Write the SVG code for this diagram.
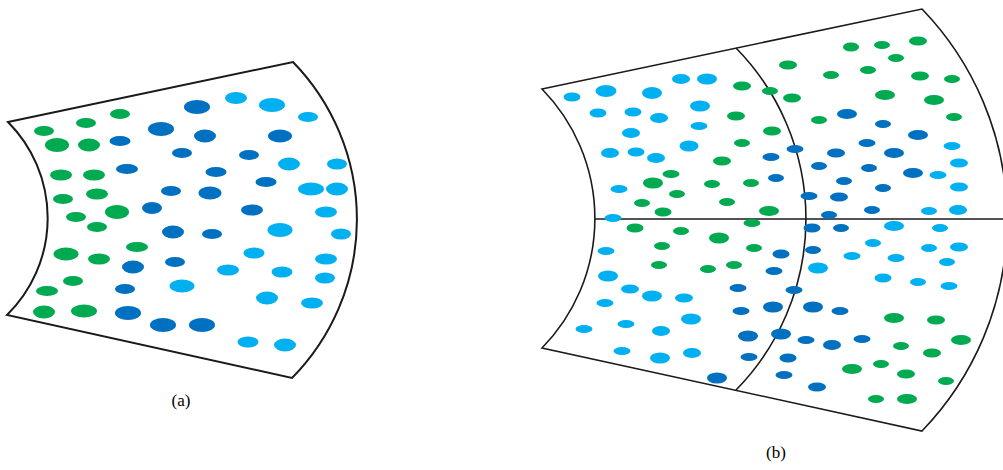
<svg xmlns="http://www.w3.org/2000/svg" width="1003" height="470" viewBox="0 0 1003 470">
<style>
.o{fill:none;stroke:#1a1a1a;stroke-width:2;stroke-linejoin:miter}
.o2{fill:none;stroke:#1a1a1a;stroke-width:1.6}
.g{fill:#00AA50}
.d{fill:#0070C0}
.l{fill:#00B0F0}
.t{font-family:"Liberation Serif","Times New Roman",serif;font-size:17px;fill:#000;text-anchor:middle}
</style>
<rect width="1003" height="470" fill="#fff"/>
<g id="figA">
<path class="o" d="M8,122 L293,62 A226,226 0 0 1 292,378 L7,315 A136,136 0 0 0 8,122 Z"/>
<g id="dotsA">
<ellipse class="g" cx="44" cy="131" rx="10" ry="5"/>
<ellipse class="g" cx="86" cy="123" rx="10" ry="5"/>
<ellipse class="g" cx="120" cy="114" rx="10" ry="5"/>
<ellipse class="d" cx="161" cy="129" rx="13" ry="7"/>
<ellipse class="d" cx="197" cy="107" rx="13" ry="7"/>
<ellipse class="l" cx="236" cy="98" rx="11" ry="6"/>
<ellipse class="l" cx="272" cy="105" rx="13" ry="7"/>
<ellipse class="l" cx="308" cy="117" rx="10" ry="5"/>
<ellipse class="g" cx="57" cy="145" rx="12" ry="7"/>
<ellipse class="g" cx="89" cy="145" rx="11" ry="6.5"/>
<ellipse class="d" cx="120" cy="141" rx="10.5" ry="5"/>
<ellipse class="d" cx="205" cy="136" rx="11" ry="6.5"/>
<ellipse class="d" cx="280" cy="136" rx="12" ry="6.5"/>
<ellipse class="d" cx="182" cy="153" rx="10" ry="5"/>
<ellipse class="d" cx="249" cy="155" rx="10" ry="5"/>
<ellipse class="l" cx="289" cy="164" rx="11" ry="6.5"/>
<ellipse class="l" cx="337" cy="164" rx="10" ry="5.5"/>
<ellipse class="g" cx="61" cy="175" rx="11" ry="5.5"/>
<ellipse class="g" cx="94" cy="175" rx="11" ry="5.5"/>
<ellipse class="d" cx="127" cy="169" rx="11" ry="5"/>
<ellipse class="d" cx="216" cy="172" rx="10.5" ry="5"/>
<ellipse class="d" cx="266" cy="182" rx="10.5" ry="5"/>
<ellipse class="d" cx="171" cy="191" rx="10" ry="5"/>
<ellipse class="d" cx="210" cy="193" rx="11.5" ry="6.5"/>
<ellipse class="l" cx="311" cy="189" rx="13" ry="6.5"/>
<ellipse class="l" cx="337" cy="189" rx="11" ry="6.5"/>
<ellipse class="g" cx="63" cy="199" rx="10" ry="5"/>
<ellipse class="g" cx="97" cy="194" rx="11" ry="5.5"/>
<ellipse class="g" cx="117" cy="212" rx="12" ry="7"/>
<ellipse class="d" cx="152" cy="208" rx="10" ry="6"/>
<ellipse class="d" cx="252" cy="210" rx="11" ry="5.5"/>
<ellipse class="l" cx="326" cy="212" rx="11" ry="5.5"/>
<ellipse class="g" cx="76" cy="217" rx="10" ry="5"/>
<ellipse class="g" cx="97" cy="227" rx="10" ry="5"/>
<ellipse class="d" cx="173" cy="232" rx="11" ry="6.5"/>
<ellipse class="d" cx="212" cy="234" rx="10" ry="5"/>
<ellipse class="l" cx="280" cy="230" rx="12.5" ry="7"/>
<ellipse class="l" cx="341" cy="234" rx="10" ry="5.5"/>
<ellipse class="g" cx="66" cy="254" rx="12.5" ry="6.5"/>
<ellipse class="g" cx="99" cy="259" rx="11" ry="5.5"/>
<ellipse class="g" cx="137" cy="247" rx="11" ry="5"/>
<ellipse class="d" cx="133" cy="267" rx="11" ry="6.5"/>
<ellipse class="d" cx="175" cy="262" rx="10" ry="5"/>
<ellipse class="l" cx="254" cy="253" rx="10.5" ry="5.5"/>
<ellipse class="l" cx="326" cy="259" rx="11" ry="5.5"/>
<ellipse class="l" cx="228" cy="270" rx="11" ry="5.5"/>
<ellipse class="l" cx="282" cy="272" rx="10.5" ry="5.5"/>
<ellipse class="l" cx="325" cy="278" rx="10" ry="5.5"/>
<ellipse class="g" cx="73" cy="281" rx="10" ry="5"/>
<ellipse class="g" cx="47" cy="291" rx="11" ry="5"/>
<ellipse class="d" cx="125" cy="289" rx="10" ry="5"/>
<ellipse class="l" cx="182" cy="286" rx="12.5" ry="6.5"/>
<ellipse class="l" cx="267" cy="298" rx="11" ry="6.5"/>
<ellipse class="l" cx="312" cy="303" rx="11" ry="5.5"/>
<ellipse class="g" cx="44" cy="312" rx="11" ry="6.5"/>
<ellipse class="g" cx="84" cy="311" rx="13" ry="6.5"/>
<ellipse class="d" cx="128" cy="313" rx="13" ry="7"/>
<ellipse class="d" cx="163" cy="325" rx="13" ry="7"/>
<ellipse class="d" cx="202" cy="325" rx="13" ry="7"/>
<ellipse class="l" cx="248" cy="342" rx="10.5" ry="5.5"/>
<ellipse class="l" cx="285" cy="345" rx="11" ry="6.5"/>
</g>
<text class="t" x="181" y="406">(a)</text>
</g>
<g id="figB">
<path class="o2" d="M542,89 L922,9 A304,304 0 0 1 922,431 L542,348 A185,185 0 0 0 542,89 Z"/>
<g id="connectors">
<path class="o2" d="M736,48 A244,244 0 0 1 736,390"/>
<path class="o2" d="M595,219 L1003,219"/>
</g>
<g id="dotsB">
<ellipse class="l" cx="572" cy="97" rx="8.5" ry="4.5"/>
<ellipse class="l" cx="606" cy="91" rx="10.5" ry="6"/>
<ellipse class="l" cx="652" cy="93" rx="10" ry="6"/>
<ellipse class="l" cx="681" cy="79" rx="9" ry="5"/>
<ellipse class="l" cx="707" cy="79" rx="10" ry="5.5"/>
<ellipse class="l" cx="598" cy="113" rx="8.5" ry="4.5"/>
<ellipse class="l" cx="633" cy="112" rx="8.5" ry="4.5"/>
<ellipse class="l" cx="659" cy="118" rx="9" ry="5"/>
<ellipse class="l" cx="700" cy="106" rx="10" ry="5.5"/>
<ellipse class="l" cx="631" cy="133" rx="9" ry="5"/>
<ellipse class="l" cx="699" cy="126" rx="8.5" ry="4"/>
<ellipse class="l" cx="610" cy="153" rx="9" ry="5"/>
<ellipse class="l" cx="636" cy="152" rx="8.5" ry="4.5"/>
<ellipse class="l" cx="656" cy="158" rx="9" ry="5"/>
<ellipse class="l" cx="689" cy="146" rx="9.5" ry="5.5"/>
<ellipse class="l" cx="619" cy="189" rx="8.5" ry="4"/>
<ellipse class="l" cx="613" cy="218" rx="8.5" ry="4"/>
<ellipse class="g" cx="742" cy="86" rx="9" ry="4.5"/>
<ellipse class="g" cx="770" cy="91" rx="8" ry="4"/>
<ellipse class="g" cx="788" cy="65" rx="9" ry="4.5"/>
<ellipse class="g" cx="831" cy="75" rx="8" ry="4"/>
<ellipse class="g" cx="736" cy="116" rx="9" ry="4.5"/>
<ellipse class="g" cx="792" cy="98" rx="9" ry="4.5"/>
<ellipse class="g" cx="819" cy="120" rx="8" ry="4"/>
<ellipse class="g" cx="772" cy="131" rx="9" ry="4.5"/>
<ellipse class="g" cx="742" cy="143" rx="8" ry="4"/>
<ellipse class="g" cx="722" cy="161" rx="9" ry="4.5"/>
<ellipse class="g" cx="671" cy="174" rx="8.5" ry="4"/>
<ellipse class="g" cx="653" cy="183" rx="10" ry="5.5"/>
<ellipse class="g" cx="677" cy="194" rx="8" ry="4"/>
<ellipse class="g" cx="642" cy="203" rx="8" ry="4"/>
<ellipse class="g" cx="663" cy="212" rx="8.5" ry="4.5"/>
<ellipse class="g" cx="712" cy="184" rx="8" ry="4"/>
<ellipse class="g" cx="751" cy="183" rx="8" ry="4"/>
<ellipse class="g" cx="727" cy="202" rx="8" ry="4"/>
<ellipse class="g" cx="769" cy="211" rx="10" ry="5"/>
<ellipse class="d" cx="847" cy="114" rx="10" ry="5"/>
<ellipse class="d" cx="795" cy="149" rx="8.5" ry="4"/>
<ellipse class="d" cx="771" cy="157" rx="8.5" ry="4"/>
<ellipse class="d" cx="836" cy="153" rx="9" ry="4.5"/>
<ellipse class="d" cx="819" cy="166" rx="8" ry="4"/>
<ellipse class="d" cx="776" cy="178" rx="8" ry="4"/>
<ellipse class="d" cx="844" cy="181" rx="8" ry="4"/>
<ellipse class="d" cx="809" cy="196" rx="8.5" ry="4"/>
<ellipse class="d" cx="839" cy="197" rx="9" ry="4.5"/>
<ellipse class="d" cx="829" cy="215" rx="8" ry="4"/>
<ellipse class="g" cx="851" cy="47" rx="8" ry="4.5"/>
<ellipse class="g" cx="882" cy="45" rx="8" ry="4"/>
<ellipse class="g" cx="918" cy="41" rx="9" ry="4.5"/>
<ellipse class="g" cx="896" cy="58" rx="8" ry="4"/>
<ellipse class="g" cx="868" cy="70" rx="8" ry="4"/>
<ellipse class="g" cx="920" cy="76" rx="9" ry="4.5"/>
<ellipse class="g" cx="952" cy="79" rx="8" ry="4"/>
<ellipse class="g" cx="885" cy="95" rx="10" ry="5"/>
<ellipse class="g" cx="934" cy="100" rx="10" ry="5"/>
<ellipse class="g" cx="954" cy="117" rx="8" ry="4"/>
<ellipse class="d" cx="883" cy="124" rx="8" ry="4"/>
<ellipse class="d" cx="918" cy="135" rx="10" ry="5"/>
<ellipse class="d" cx="867" cy="143" rx="8.5" ry="4"/>
<ellipse class="d" cx="894" cy="153" rx="10" ry="5"/>
<ellipse class="l" cx="952" cy="146" rx="8.5" ry="4"/>
<ellipse class="l" cx="959" cy="163" rx="9" ry="4.5"/>
<ellipse class="d" cx="869" cy="168" rx="8" ry="4"/>
<ellipse class="d" cx="913" cy="173" rx="10" ry="5"/>
<ellipse class="l" cx="938" cy="175" rx="8.5" ry="4"/>
<ellipse class="d" cx="883" cy="188" rx="8" ry="4"/>
<ellipse class="l" cx="959" cy="187" rx="9" ry="4.5"/>
<ellipse class="d" cx="872" cy="210" rx="8" ry="4"/>
<ellipse class="l" cx="929" cy="211" rx="8" ry="4"/>
<ellipse class="l" cx="958" cy="210" rx="9" ry="5"/>
<ellipse class="g" cx="635" cy="228" rx="8.5" ry="4.5"/>
<ellipse class="g" cx="681" cy="231" rx="8" ry="4"/>
<ellipse class="l" cx="606" cy="251" rx="8.5" ry="4"/>
<ellipse class="g" cx="662" cy="246" rx="8" ry="4"/>
<ellipse class="g" cx="659" cy="265" rx="8" ry="4"/>
<ellipse class="l" cx="608" cy="276" rx="10" ry="5.5"/>
<ellipse class="l" cx="630" cy="289" rx="9" ry="4.5"/>
<ellipse class="l" cx="652" cy="296" rx="10" ry="5.5"/>
<ellipse class="l" cx="684" cy="298" rx="9" ry="4.5"/>
<ellipse class="l" cx="605" cy="303" rx="8.5" ry="4"/>
<ellipse class="l" cx="691" cy="319" rx="10" ry="5.5"/>
<ellipse class="l" cx="584" cy="329" rx="8.5" ry="4"/>
<ellipse class="l" cx="626" cy="324" rx="8.5" ry="4"/>
<ellipse class="l" cx="661" cy="331" rx="9" ry="5"/>
<ellipse class="l" cx="622" cy="351" rx="8.5" ry="4"/>
<ellipse class="l" cx="660" cy="358" rx="10" ry="5.5"/>
<ellipse class="l" cx="692" cy="353" rx="9" ry="5"/>
<ellipse class="g" cx="752" cy="223" rx="8.5" ry="4"/>
<ellipse class="d" cx="812" cy="228" rx="8.5" ry="4.5"/>
<ellipse class="d" cx="841" cy="228" rx="8" ry="4"/>
<ellipse class="g" cx="719" cy="238" rx="10" ry="5.5"/>
<ellipse class="g" cx="754" cy="248" rx="8" ry="4"/>
<ellipse class="d" cx="781" cy="254" rx="8.5" ry="4.5"/>
<ellipse class="d" cx="813" cy="250" rx="8" ry="4"/>
<ellipse class="g" cx="708" cy="269" rx="8" ry="4"/>
<ellipse class="g" cx="734" cy="265" rx="8" ry="4"/>
<ellipse class="d" cx="774" cy="271" rx="8.5" ry="4"/>
<ellipse class="l" cx="818" cy="268" rx="10" ry="5.5"/>
<ellipse class="d" cx="738" cy="288" rx="8.5" ry="4"/>
<ellipse class="d" cx="794" cy="290" rx="8.5" ry="4"/>
<ellipse class="d" cx="741" cy="311" rx="8.5" ry="4"/>
<ellipse class="d" cx="773" cy="307" rx="10" ry="5.5"/>
<ellipse class="d" cx="813" cy="307" rx="10" ry="5.5"/>
<ellipse class="d" cx="840" cy="311" rx="8.5" ry="4"/>
<ellipse class="d" cx="748" cy="336" rx="10" ry="5.5"/>
<ellipse class="d" cx="781" cy="334" rx="10" ry="5.5"/>
<ellipse class="d" cx="806" cy="340" rx="8.5" ry="4"/>
<ellipse class="d" cx="832" cy="345" rx="9" ry="5"/>
<ellipse class="d" cx="749" cy="357" rx="8.5" ry="4"/>
<ellipse class="d" cx="788" cy="358" rx="8.5" ry="4.5"/>
<ellipse class="d" cx="784" cy="375" rx="8.5" ry="4"/>
<ellipse class="d" cx="717" cy="378" rx="10" ry="5.5"/>
<ellipse class="d" cx="817" cy="387" rx="9" ry="4.5"/>
<ellipse class="l" cx="894" cy="226" rx="10" ry="5"/>
<ellipse class="l" cx="940" cy="228" rx="8" ry="4"/>
<ellipse class="l" cx="873" cy="243" rx="8" ry="4"/>
<ellipse class="l" cx="929" cy="248" rx="8" ry="4"/>
<ellipse class="l" cx="959" cy="247" rx="9" ry="4.5"/>
<ellipse class="l" cx="852" cy="256" rx="8.5" ry="4"/>
<ellipse class="l" cx="896" cy="258" rx="8.5" ry="4"/>
<ellipse class="l" cx="947" cy="262" rx="8" ry="4"/>
<ellipse class="l" cx="883" cy="278" rx="8.5" ry="4.5"/>
<ellipse class="l" cx="918" cy="282" rx="8" ry="4"/>
<ellipse class="l" cx="949" cy="286" rx="8.5" ry="4"/>
<ellipse class="g" cx="894" cy="318" rx="10" ry="5"/>
<ellipse class="g" cx="936" cy="320" rx="9" ry="4.5"/>
<ellipse class="d" cx="862" cy="339" rx="8.5" ry="4"/>
<ellipse class="g" cx="901" cy="346" rx="8" ry="4"/>
<ellipse class="g" cx="932" cy="353" rx="9" ry="4.5"/>
<ellipse class="g" cx="961" cy="340" rx="10" ry="5"/>
<ellipse class="g" cx="852" cy="369" rx="10" ry="5"/>
<ellipse class="g" cx="881" cy="364" rx="8" ry="4"/>
<ellipse class="g" cx="906" cy="374" rx="9" ry="4.5"/>
<ellipse class="g" cx="946" cy="381" rx="8" ry="4"/>
<ellipse class="g" cx="876" cy="399" rx="8" ry="4"/>
<ellipse class="g" cx="907" cy="399" rx="10" ry="5"/>
</g>
<text class="t" x="776" y="458">(b)</text>
</g>
</svg>
